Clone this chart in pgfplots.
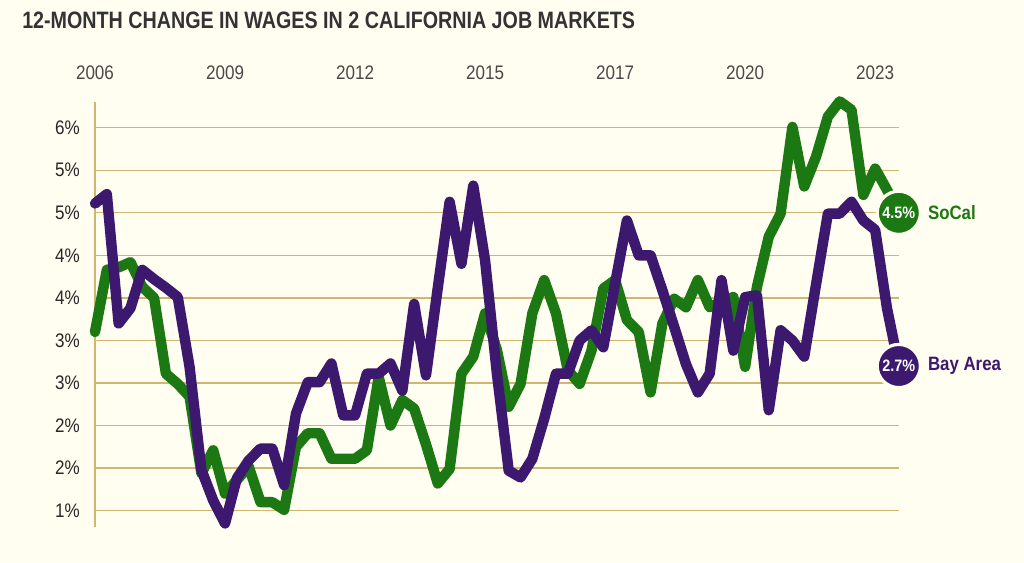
\documentclass[border=0pt]{standalone}
\usepackage{fontspec}
\setmainfont{Liberation Sans}[FakeStretch=0.87]
\newfontfamily\titlefont{Liberation Sans}[FakeStretch=0.83]
\usepackage{pgfplots}
\pgfplotsset{compat=1.18}

\definecolor{bg}{RGB}{255,254,240}
\definecolor{gridgold}{RGB}{208,182,112}
\definecolor{socal}{RGB}{28,120,18}
\definecolor{bay}{RGB}{60,24,110}
\definecolor{titlegray}{RGB}{51,51,51}
\definecolor{ticktext}{RGB}{40,40,40}

% quarterly 12-month wage change, % (index 0 = first quarter shown)
\pgfplotstableread{
i  socal bay
0  3.10 4.61
1  3.83 4.72
2  3.86 3.20
3  3.92 3.38
4  3.63 3.83
5  3.50 3.72
6  2.61 3.62
7  2.49 3.51
8  2.34 2.69
9  1.44 1.48
10 1.71 1.12
11 1.20 0.85
12 1.36 1.38
13 1.52 1.59
14 1.10 1.73
15 1.10 1.73
16 1.01 1.30
17 1.75 2.14
18 1.91 2.51
19 1.91 2.51
20 1.61 2.73
21 1.61 2.12
22 1.61 2.12
23 1.71 2.61
24 2.57 2.61
25 2.00 2.73
26 2.30 2.41
27 2.20 3.43
28 1.78 2.59
29 1.32 3.62
30 1.49 4.63
31 2.61 3.90
32 2.81 4.82
33 3.32 3.94
34 2.89 2.61
35 2.22 1.47
36 2.49 1.39
37 3.32 1.61
38 3.71 2.08
39 3.32 2.61
40 2.65 2.61
41 2.49 3.00
42 2.88 3.12
43 3.61 2.92
44 3.71 3.67
45 3.24 4.41
46 3.10 4.00
47 2.39 4.00
48 3.20 3.59
49 3.49 3.16
50 3.39 2.72
51 3.71 2.39
52 3.39 2.61
53 3.46 3.71
54 3.51 2.88
55 2.69 3.51
56 3.63 3.53
57 4.22 2.18
58 4.49 3.12
59 5.51 3.00
60 4.81 2.81
61 5.16 3.66
62 5.63 4.49
63 5.81 4.49
64 5.71 4.63
65 4.71 4.41
66 5.02 4.30
67 4.77 3.38
68 4.50 2.70
}\wages

\begin{document}
\begin{tikzpicture}
\fill[bg] (0,0) rectangle (768pt,422.25pt);
\useasboundingbox (0,0) rectangle (768pt,422.25pt);
\node[anchor=base west, inner sep=0pt, text=titlegray,
  font=\titlefont\bfseries\fontsize{17.8}{20}\selectfont]
  at (16.5pt,400.5pt) {12-MONTH CHANGE IN WAGES IN 2 CALIFORNIA JOB MARKETS};
\begin{axis}[
  at={(71.25pt,27.23pt)}, anchor=south west,
  scale only axis, width=602.85pt, height=318.75pt,
  xmin=0, xmax=68, ymin=0.812, ymax=5.806,
  clip=false,
  axis line style={draw=none},
  major tick length=0pt,
  xtick={0,11,22,33,44,55,66},
  xticklabels={2006,2009,2012,2015,2017,2020,2023},
  xticklabel pos=upper,
  xticklabel style={anchor=base, inner sep=0pt, yshift=17pt,
    text=ticktext!85, font=\fontsize{14.7}{16}\selectfont},
  ytick={1,1.5,2,2.5,3,3.5,4,4.5,5,5.5},
  yticklabels={1\%,2\%,2\%,3\%,3\%,4\%,4\%,5\%,5\%,6\%},
  yticklabel style={anchor=east, inner sep=0pt, xshift=-11.25pt,
    text=ticktext, font=\fontsize{14.7}{16}\selectfont},
  ymajorgrids,
  grid style={gridgold, line width=1pt},
  /pgf/number format/assume math mode=true,
]
\draw[gridgold, line width=1.3pt] (axis cs:0,0.812) -- (axis cs:0,5.806);
\addplot[socal, line width=7.8pt, line join=round, line cap=round] table[x=i, y=socal] {\wages};
\addplot[bay, line width=7.8pt, line join=round, line cap=round] table[x=i, y=bay] {\wages};
\addplot[only marks, mark=*, mark size=16.2pt,
  mark options={fill=socal, draw=bg, line width=2.4pt},
  nodes near coords={4.5\%},
  nodes near coords style={anchor=center, text=white,
    font=\bfseries\fontsize{12.4}{13}\selectfont}]
  coordinates {(68,4.5)};
\addplot[only marks, mark=*, mark size=16.2pt,
  mark options={fill=bay, draw=bg, line width=2.4pt},
  nodes near coords={2.7\%},
  nodes near coords style={anchor=center, text=white,
    font=\bfseries\fontsize{12.4}{13}\selectfont}]
  coordinates {(68,2.7)};
\node[anchor=west, inner sep=0pt, xshift=21.75pt, text=socal,
  font=\bfseries\fontsize{14.5}{16}\selectfont] at (axis cs:68,4.5) {SoCal};
\node[anchor=west, inner sep=0pt, xshift=21.75pt, text=bay,
  font=\bfseries\fontsize{14.5}{16}\selectfont] at (axis cs:68,2.7) {Bay Area};
\end{axis}
\end{tikzpicture}
\end{document}
